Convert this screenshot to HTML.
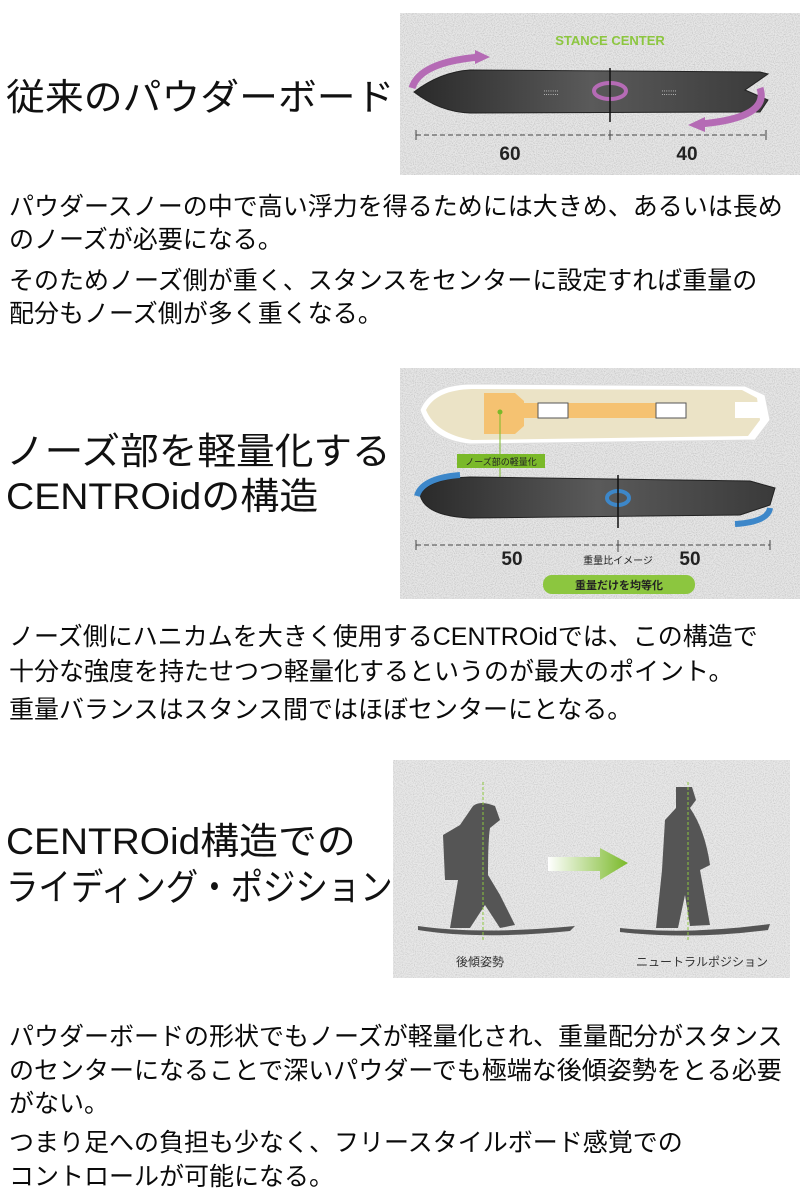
<!DOCTYPE html>
<html><head><meta charset="utf-8"><style>
body{margin:0;background:#fff;}
#c{position:relative;width:800px;height:1200px;overflow:hidden;background:#fff;font-family:"Liberation Sans","Noto Sans CJK JP",sans-serif;color:#111;}
.t{position:absolute;left:9px;font-size:25px;line-height:30px;white-space:nowrap;color:#0a0a0a;}
.h{position:absolute;left:6px;font-size:37px;line-height:44px;white-space:nowrap;color:#111;transform-origin:0 50%;}
.p{position:absolute;}
</style></head><body><div id="c">
<svg class="p" style="left:0;top:0" width="800" height="1200">
<defs>
<filter id="n" x="0" y="0" width="100%" height="100%"><feTurbulence type="fractalNoise" baseFrequency="0.9" numOctaves="2" seed="3"/><feColorMatrix values="0 0 0 0 0.45 0 0 0 0 0.45 0 0 0 0 0.45 0 0 0 -2.2 1.3"/></filter>
<linearGradient id="bd" x1="0" x2="1"><stop offset="0" stop-color="#2a2a2a"/><stop offset="0.5" stop-color="#5a5a5a"/><stop offset="1" stop-color="#3a3a3a"/></linearGradient>
<linearGradient id="ar" x1="0" x2="1"><stop offset="0" stop-color="#fff"/><stop offset="1" stop-color="#7ab929"/></linearGradient>
</defs>
<rect x="400" y="13" width="400" height="162" fill="#e6e6e6"/>
<rect x="400" y="13" width="400" height="162" filter="url(#n)" opacity="0.7"/>
<text x="610" y="45" font-size="13" font-weight="bold" fill="#8cc63f" text-anchor="middle" font-family="Liberation Sans,sans-serif">STANCE CENTER</text>
<path d="M414,92 Q440,72 470,70 L760,72 L768,74 L745,90 L768,100 L760,112 L470,113 Q440,112 414,92Z" fill="url(#bd)" stroke="#222"/>
<path d="M412,88 Q420,62 480,57" stroke="#b56bb5" stroke-width="7" fill="none"/>
<path d="M475,50 L490,57 L475,64Z" fill="#b56bb5"/>
<path d="M760,88 Q770,118 700,124" stroke="#b56bb5" stroke-width="7" fill="none"/>
<path d="M705,117 L688,125 L705,132Z" fill="#b56bb5"/>
<ellipse cx="610" cy="91" rx="16" ry="8" fill="none" stroke="#b56bb5" stroke-width="4"/>
<line x1="610" y1="68" x2="610" y2="122" stroke="#111" stroke-width="1.5"/>
<text x="551" y="95" font-size="8" fill="#ddd" text-anchor="middle">:::::::</text>
<text x="669" y="95" font-size="8" fill="#ddd" text-anchor="middle">:::::::</text>
<line x1="416" y1="135" x2="766" y2="135" stroke="#444" stroke-dasharray="5,3"/>
<line x1="416" y1="130" x2="416" y2="140" stroke="#444"/><line x1="610" y1="130" x2="610" y2="140" stroke="#444"/><line x1="766" y1="130" x2="766" y2="140" stroke="#444"/>
<text x="510" y="160" font-size="19" font-weight="bold" fill="#222" text-anchor="middle">60</text>
<text x="687" y="160" font-size="19" font-weight="bold" fill="#222" text-anchor="middle">40</text>
<rect x="400" y="368" width="400" height="231" fill="#e6e6e6"/>
<rect x="400" y="368" width="400" height="231" filter="url(#n)" opacity="0.7"/>
<path d="M420,410 Q430,385 470,384 L745,386 L765,395 L770,420 L755,440 L470,444 Q430,440 420,410Z" fill="#fff" stroke="#ddd"/>
<path d="M426,410 Q436,390 472,389 L742,390 L757,398 L760,420 L748,436 L472,440 Q436,434 426,410Z" fill="#ebe3c6"/>
<rect x="735" y="402" width="25" height="16" fill="#fff"/>
<path d="M484,393 L515,393 L524,401 L524,426 L515,434 L484,434Z" fill="#f5c271"/>
<rect x="524" y="403" width="160" height="15" fill="#f5c271"/>
<rect x="538" y="403" width="30" height="15" fill="#fff" stroke="#555"/>
<rect x="656" y="403" width="30" height="15" fill="#fff" stroke="#555"/>
<circle cx="500" cy="412" r="2.5" fill="#7ab929"/>
<line x1="500" y1="412" x2="500" y2="495" stroke="#7ab929"/>
<rect x="457" y="454" width="88" height="14" fill="#7ab929"/>
<text x="501" y="465" font-size="9" fill="#222" text-anchor="middle">ノーズ部の軽量化</text>
<path d="M420,495 Q430,478 470,477 L750,481 L775,488 L770,505 L740,515 L470,518 Q425,516 420,495Z" fill="url(#bd)" stroke="#222"/>
<path d="M417,496 Q422,478 460,475" stroke="#3d87c9" stroke-width="6" fill="none"/>
<path d="M770,508 Q768,522 735,524" stroke="#3d87c9" stroke-width="6" fill="none"/>
<ellipse cx="618" cy="498" rx="11" ry="7" fill="none" stroke="#3d87c9" stroke-width="4"/>
<line x1="618" y1="475" x2="618" y2="528" stroke="#111" stroke-width="1.5"/>
<line x1="416" y1="545" x2="770" y2="545" stroke="#444" stroke-dasharray="5,3"/>
<line x1="416" y1="540" x2="416" y2="550" stroke="#444"/><line x1="618" y1="540" x2="618" y2="552" stroke="#444"/><line x1="770" y1="540" x2="770" y2="550" stroke="#444"/>
<text x="512" y="565" font-size="19" font-weight="bold" fill="#222" text-anchor="middle">50</text>
<text x="690" y="565" font-size="19" font-weight="bold" fill="#222" text-anchor="middle">50</text>
<text x="618" y="564" font-size="10" fill="#222" text-anchor="middle">重量比イメージ</text>
<rect x="543" y="575" width="152" height="19" rx="9" fill="#8cc63f"/>
<text x="619" y="589" font-size="11" font-weight="bold" fill="#222" text-anchor="middle">重量だけを均等化</text>
<rect x="393" y="760" width="397" height="218" fill="#e8e8e8"/>
<rect x="393" y="760" width="397" height="218" filter="url(#n)" opacity="0.6"/>
<path d="M418,926 Q480,935 575,926 L570,931 Q480,940 418,930Z" fill="#555"/>
<path d="M473,806 Q480,800 495,806 L500,820 L490,828 Q488,840 488,875 L500,895 L515,925 L500,928 L485,905 L470,928 L450,928 L458,880 L445,880 L443,835 L460,825Z" fill="#555"/>
<line x1="483" y1="782" x2="483" y2="940" stroke="#8cc63f" stroke-dasharray="3,2"/>
<path d="M548,857 L600,857 L600,848 L628,863 L600,880 L600,871 L548,871Z" fill="url(#ar)"/>
<path d="M620,928 Q690,935 770,924 L768,930 Q690,940 620,932Z" fill="#555"/>
<path d="M676,787 L692,787 L696,800 L690,808 Q705,830 710,865 L700,870 L710,925 L690,926 L685,895 L678,928 L656,928 L662,870 L665,820 L676,808Z" fill="#555"/>
<line x1="688" y1="782" x2="688" y2="942" stroke="#8cc63f" stroke-dasharray="3,2"/>
<text x="480" y="966" font-size="12" fill="#333" text-anchor="middle">後傾姿勢</text>
<text x="702" y="966" font-size="12" fill="#333" text-anchor="middle">ニュートラルポジション</text>
</svg>
<div class="h" style="top:76px;transform:scaleX(1.05)">従来のパウダーボード</div>
<div class="t" style="top:192px">パウダースノーの中で高い浮力を得るためには大きめ、あるいは長め</div>
<div class="t" style="top:225px">のノーズが必要になる。</div>
<div class="t" style="top:266px">そのためノーズ側が重く、スタンスをセンターに設定すれば重量の</div>
<div class="t" style="top:299px">配分もノーズ側が多く重くなる。</div>
<div class="h" style="top:430px;transform:scaleX(1.045)">ノーズ部を軽量化する</div>
<div class="h" style="top:475px;transform:scaleX(1.055)">CENTROidの構造</div>
<div class="t" style="top:622px">ノーズ側にハニカムを大きく使用するCENTROidでは、この構造で</div>
<div class="t" style="top:657px">十分な強度を持たせつつ軽量化するというのが最大のポイント。</div>
<div class="t" style="top:695px">重量バランスはスタンス間ではほぼセンターにとなる。</div>
<div class="h" style="top:820px;transform:scaleX(1.05)">CENTROid構造での</div>
<div class="h" style="top:866px;transform:scaleX(0.876)">ライディング・ポジション</div>
<div class="t" style="top:1022px">パウダーボードの形状でもノーズが軽量化され、重量配分がスタンス</div>
<div class="t" style="top:1056px">のセンターになることで深いパウダーでも極端な後傾姿勢をとる必要</div>
<div class="t" style="top:1089px">がない。</div>
<div class="t" style="top:1128px">つまり足への負担も少なく、フリースタイルボード感覚での</div>
<div class="t" style="top:1162px">コントロールが可能になる。</div>
</div></body></html>
